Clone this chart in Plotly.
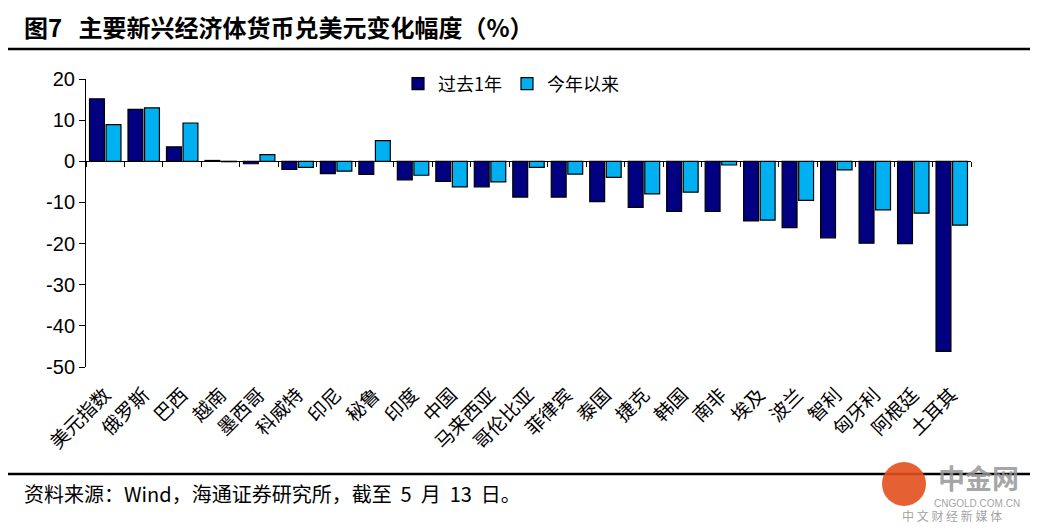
import plotly.graph_objects as go

categories = ["美元指数", "俄罗斯", "巴西", "越南", "墨西哥", "科威特", "印尼", "秘鲁", "印度",
              "中国", "马来西亚", "哥伦比亚", "菲律宾", "泰国", "捷克", "韩国", "南非", "埃及",
              "波兰", "智利", "匈牙利", "阿根廷", "土耳其"]
past_1y = [15.2, 12.6, 3.5, 0.2, -0.6, -2.0, -3.0, -3.2, -4.5,
           -4.9, -6.2, -8.7, -8.7, -9.8, -11.2, -12.2, -12.2, -14.5,
           -16.1, -18.6, -19.9, -20.0, -46.2]
ytd = [8.9, 13.0, 9.3, -0.1, 1.6, -1.5, -2.4, 5.0, -3.4,
       -6.2, -5.0, -1.5, -3.1, -3.9, -7.9, -7.5, -0.9, -14.3,
       -9.5, -2.1, -11.8, -12.6, -15.5]
series_names = ["过去1年", "今年以来"]
y_ticks = [20, 10, 0, -10, -20, -30, -40, -50]
y_tick_labels = [str(v) for v in y_ticks]

OFF = 8  # page body margin
W, H = 1038 - OFF, 532 - OFF
L, T = 86 - OFF, 79 - OFF
PLOT_RIGHT, PLOT_BOTTOM = 971 - OFF, 367 - OFF
R, B = W - PLOT_RIGHT, H - PLOT_BOTTOM
PW, PH = W - L - R, H - T - B


def X(px):
    return (px - OFF - L) / PW


def Y(py):
    return (PLOT_BOTTOM - (py - OFF)) / PH


CJK = "Noto Sans CJK SC"

fig = go.Figure()
fig.add_trace(go.Bar(x=categories, y=past_1y, name=series_names[0],
                     marker=dict(color="#000080", line=dict(color="black", width=1.2))))
fig.add_trace(go.Bar(x=categories, y=ytd, name=series_names[1],
                     marker=dict(color="#00B0F0", line=dict(color="black", width=1.2))))
# helper trace so the zero-line axis exists
fig.add_trace(go.Scatter(x=categories, y=[0] * len(categories), xaxis="x2", mode="none",
                         showlegend=False, hoverinfo="skip"))

zero_pos = (0 - (-50)) / (20 - (-50))

fig.update_layout(
    width=W, height=H,
    margin=dict(l=L, r=R, t=T, b=B, autoexpand=False),
    paper_bgcolor="white", plot_bgcolor="white",
    barmode="group", bargap=0.14, bargroupgap=0.1,
    font=dict(family=CJK, color="black"),
    showlegend=True,
    legend=dict(orientation="h", x=X(398), y=Y(84), xanchor="left", yanchor="middle",
                font=dict(family=CJK, size=18), bgcolor="rgba(0,0,0,0)",
                itemwidth=30, traceorder="normal"),
    xaxis=dict(type="category", showline=False, ticks="", showgrid=False, automargin=False,
               tickangle=-45, tickfont=dict(family=CJK, size=19), zeroline=False,
               ticklabelstandoff=12),
    xaxis2=dict(type="category", matches="x", overlaying="x", anchor="free",
                position=zero_pos, showline=True, linecolor="black", linewidth=1,
                ticks="outside", ticklen=5, tickcolor="black", tickson="boundaries",
                showticklabels=False, showgrid=False, zeroline=False),
    yaxis=dict(range=[-50, 20], tickvals=y_ticks, ticktext=y_tick_labels, showline=True,
               linecolor="black", linewidth=1, ticks="outside", ticklen=6, tickcolor="black",
               showgrid=False, zeroline=False, automargin=False,
               tickfont=dict(family="Liberation Sans, Arial", size=20)),
)

shapes = []
for py, x0, x1, wd in [(3, 8, 1030, 3), (49, 8, 1030, 2.5), (474, 8, 1030, 2.5)]:
    shapes.append(dict(type="line", xref="paper", yref="paper", x0=X(x0), x1=X(x1),
                       y0=Y(py), y1=Y(py), line=dict(color="black", width=wd)))
shapes.append(dict(type="circle", xref="paper", yref="paper", x0=X(882), x1=X(926),
                   y0=Y(506), y1=Y(462), fillcolor="rgba(226,80,30,0.9)", line=dict(width=0)))
fig.update_layout(shapes=shapes)

annotations = [
    dict(text="<b>图7   主要新兴经济体货币兑美元变化幅度（%）</b>", xref="paper", yref="paper",
         x=X(22), y=Y(27), xanchor="left", yanchor="middle", showarrow=False,
         font=dict(family=CJK, size=24, color="black")),
    dict(text="资料来源：Wind，海通证券研究所，截至  5  月  13  日。", xref="paper", yref="paper",
         x=X(22), y=Y(493), xanchor="left", yanchor="middle", showarrow=False,
         font=dict(family=CJK, size=20, color="black")),
    dict(text="<b>中金网</b>", xref="paper", yref="paper", x=X(978), y=Y(477),
         xanchor="center", yanchor="middle", showarrow=False,
         font=dict(family=CJK, size=27, color="rgba(150,150,150,0.85)")),
    dict(text="CNGOLD.COM.CN", xref="paper", yref="paper", x=X(977), y=Y(503),
         xanchor="center", yanchor="middle", showarrow=False,
         font=dict(family="Liberation Sans", size=10, color="rgba(150,150,150,0.9)")),
    dict(text="中 文 财 经 新 媒 体", xref="paper", yref="paper", x=X(952), y=Y(515),
         xanchor="center", yanchor="middle", showarrow=False,
         font=dict(family=CJK, size=12, color="rgba(150,150,150,0.9)")),
]
fig.update_layout(annotations=annotations)

fig.write_html("out.html")
